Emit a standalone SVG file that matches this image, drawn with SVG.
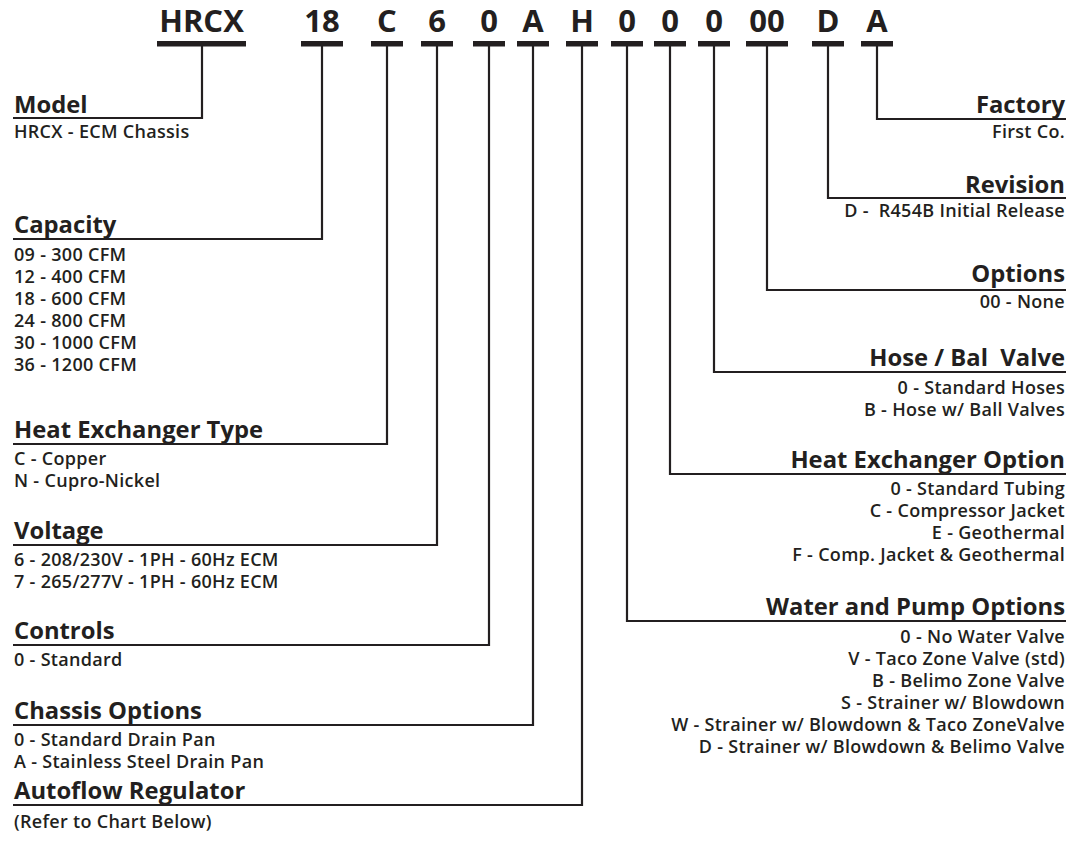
<svg xmlns="http://www.w3.org/2000/svg" width="1071" height="850" viewBox="0 0 1071 850">
<style>
text{font-family:"Open Sans","DejaVu Sans",sans-serif;fill:#231f20}
.code{font-size:31px;font-weight:700;text-anchor:middle}
.h{font-size:23.8px;font-weight:700}
.d{font-size:18px;font-weight:600;letter-spacing:0.3px}
.r{text-anchor:end}
.pre{white-space:pre}
.bar{fill:#231f20}
.c{fill:none;stroke:#231f20;stroke-width:2.2}
</style>
<rect width="1071" height="850" fill="#fff"/>
<g id="header">
<text class="code" x="201.5" y="32">HRCX</text>
<text class="code" x="322" y="32">18</text>
<text class="code" x="387" y="32">C</text>
<text class="code" x="437" y="32">6</text>
<text class="code" x="489" y="32">0</text>
<text class="code" x="533" y="32">A</text>
<text class="code" x="582" y="32">H</text>
<text class="code" x="627" y="32">0</text>
<text class="code" x="670" y="32">0</text>
<text class="code" x="714" y="32">0</text>
<text class="code" x="767" y="32">00</text>
<text class="code" x="828" y="32">D</text>
<text class="code" x="877" y="32">A</text>
<rect class="bar" x="157" y="41" width="89" height="5.5"/>
<rect class="bar" x="301" y="41" width="42" height="5.5"/>
<rect class="bar" x="371" y="41" width="32" height="5.5"/>
<rect class="bar" x="421" y="41" width="32" height="5.5"/>
<rect class="bar" x="473" y="41" width="32" height="5.5"/>
<rect class="bar" x="517" y="41" width="32" height="5.5"/>
<rect class="bar" x="566" y="41" width="32" height="5.5"/>
<rect class="bar" x="611" y="41" width="32" height="5.5"/>
<rect class="bar" x="654" y="41" width="32" height="5.5"/>
<rect class="bar" x="698" y="41" width="32" height="5.5"/>
<rect class="bar" x="746" y="41" width="42" height="5.5"/>
<rect class="bar" x="812" y="41" width="32" height="5.5"/>
<rect class="bar" x="861" y="41" width="32" height="5.5"/>
</g>
<g id="connectors">
<path class="c" d="M202 46V118H13"/>
<path class="c" d="M322 46V239H13"/>
<path class="c" d="M387 46V444H13"/>
<path class="c" d="M437 46V545H13"/>
<path class="c" d="M489 46V645H13"/>
<path class="c" d="M533 46V725H13"/>
<path class="c" d="M582 46V805H13"/>
<path class="c" d="M877 46V119H1066"/>
<path class="c" d="M828 46V198H1066"/>
<path class="c" d="M767 46V290H1066"/>
<path class="c" d="M714 46V372H1066"/>
<path class="c" d="M670 46V474H1066"/>
<path class="c" d="M627 46V621H1066"/>
</g>
<g id="model">
<text class="h" x="14" y="113">Model</text>
<text class="d" x="14" y="138">HRCX - ECM Chassis</text>
</g>
<g id="capacity">
<text class="h" x="14" y="233">Capacity</text>
<text class="d" x="14" y="261">09 - 300 CFM</text>
<text class="d" x="14" y="283">12 - 400 CFM</text>
<text class="d" x="14" y="305">18 - 600 CFM</text>
<text class="d" x="14" y="327">24 - 800 CFM</text>
<text class="d" x="14" y="349">30 - 1000 CFM</text>
<text class="d" x="14" y="371">36 - 1200 CFM</text>
</g>
<g id="hx-type">
<text class="h" x="14" y="438">Heat Exchanger Type</text>
<text class="d" x="14" y="465">C - Copper</text>
<text class="d" x="14" y="487">N - Cupro-Nickel</text>
</g>
<g id="voltage">
<text class="h" x="14" y="539">Voltage</text>
<text class="d" x="14" y="566">6 - 208/230V - 1PH - 60Hz ECM</text>
<text class="d" x="14" y="588">7 - 265/277V - 1PH - 60Hz ECM</text>
</g>
<g id="controls">
<text class="h" x="14" y="639">Controls</text>
<text class="d" x="14" y="666">0 - Standard</text>
</g>
<g id="chassis">
<text class="h" x="14" y="719">Chassis Options</text>
<text class="d" x="14" y="746">0 - Standard Drain Pan</text>
<text class="d" x="14" y="768">A - Stainless Steel Drain Pan</text>
</g>
<g id="autoflow">
<text class="h" x="14" y="799">Autoflow Regulator</text>
<text class="d" x="14" y="828">(Refer to Chart Below)</text>
</g>
<g id="factory">
<text class="h r" x="1065" y="113">Factory</text>
<text class="d r" x="1065" y="138">First Co.</text>
</g>
<g id="revision">
<text class="h r" x="1065" y="193">Revision</text>
<text class="d r pre" x="1065" y="217">D -  R454B Initial Release</text>
</g>
<g id="options">
<text class="h r" x="1065" y="282">Options</text>
<text class="d r" x="1065" y="308">00 - None</text>
</g>
<g id="hose">
<text class="h r pre" x="1065" y="366">Hose / Bal  Valve</text>
<text class="d r" x="1065" y="394">0 - Standard Hoses</text>
<text class="d r" x="1065" y="416">B - Hose w/ Ball Valves</text>
</g>
<g id="hx-option">
<text class="h r" x="1065" y="468">Heat Exchanger Option</text>
<text class="d r" x="1065" y="495">0 - Standard Tubing</text>
<text class="d r" x="1065" y="517">C - Compressor Jacket</text>
<text class="d r" x="1065" y="539">E - Geothermal</text>
<text class="d r" x="1065" y="561">F - Comp. Jacket &amp; Geothermal</text>
</g>
<g id="water">
<text class="h r" x="1065" y="615">Water and Pump Options</text>
<text class="d r" x="1065" y="643">0 - No Water Valve</text>
<text class="d r" x="1065" y="665">V - Taco Zone Valve (std)</text>
<text class="d r" x="1065" y="687">B - Belimo Zone Valve</text>
<text class="d r" x="1065" y="709">S - Strainer w/ Blowdown</text>
<text class="d r" x="1065" y="731">W - Strainer w/ Blowdown &amp; Taco ZoneValve</text>
<text class="d r" x="1065" y="753">D - Strainer w/ Blowdown &amp; Belimo Valve</text>
</g>
</svg>
